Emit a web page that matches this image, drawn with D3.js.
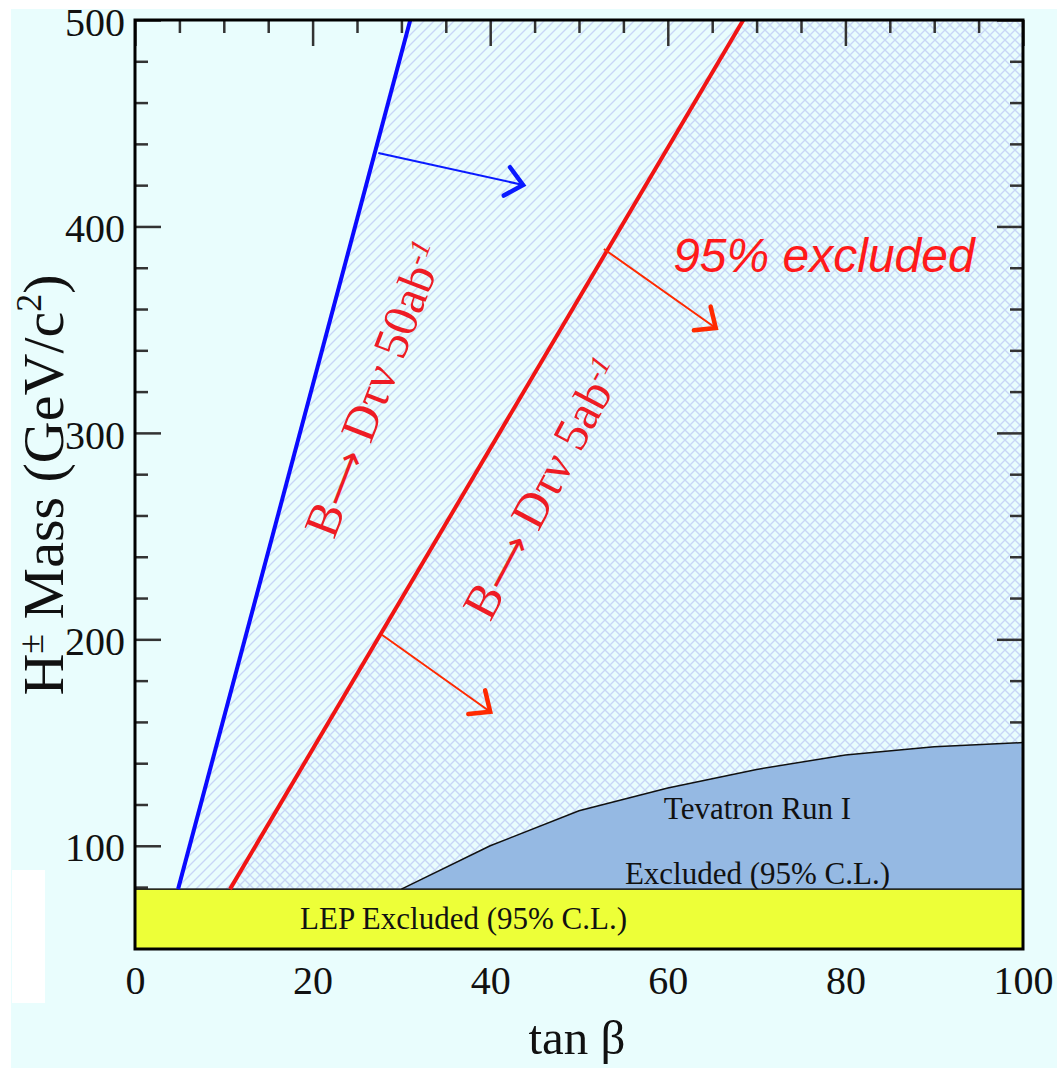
<!DOCTYPE html>
<html>
<head>
<meta charset="utf-8">
<script src="https://cdn.jsdelivr.net/npm/d3@7"></script>
<style>
  body { margin: 0; background: #ffffff; }
  text { font-family: "Liberation Serif", "DejaVu Serif", serif; }
</style>
</head>
<body>
<div id="wrapper"></div>
<script>
// axis ticks
const xMajorTicks = [0, 20, 40, 60, 80, 100]
const xMinorTicks = d3.range(5, 100, 5).filter(d => d % 20 !== 0)
const yMajorTicks = [100, 200, 300, 400, 500]
const yMinorTicks = d3.range(60, 500, 20).filter(d => d % 100 !== 0)

// regions (tanB, mass)
const lepLimit = 79
const blueLine = [[4.85, 79], [31.0, 500]]
const redLine = [[10.7, 79], [68.5, 500]]
const tevatronEdge = [[30, 79], [40, 100], [50, 117], [60, 128], [70, 137], [80, 144], [90, 148], [100, 150]]

// arrows [start, end]
const blueArrow = [[27.4, 435.6], [43.7, 420.1]]
const redArrows = [
  [[52.8, 389.1], [65.4, 350.8]],
  [[27.8, 202.2], [40.0, 164.9]]
]

// labels
const label50 = { pos: [22.4, 248], angle: -69, pre: 'B', post: 'D\u03c4\u03bd 50ab', sup: '-1' }
const label5 = { pos: [40.0, 208], angle: -62, pre: 'B', post: 'D\u03c4\u03bd 5ab', sup: '-1' }
const excludedLabel = { pos: [60.6, 378], text: '95% excluded' }
const tevatronLabel = [[70.1, 113.2, 'Tevatron Run I'], [70.1, 81.4, 'Excluded (95% C.L.)']]
const lepLabel = [37.0, 59.8, 'LEP Excluded (95% C.L.)']

async function drawChart() {
  let dimensions = {
    width: 1057,
    height: 1068,
    margin: { top: 20, right: 34, bottom: 119, left: 135 }
  }
  dimensions.boundedWidth = dimensions.width - dimensions.margin.left - dimensions.margin.right
  dimensions.boundedHeight = dimensions.height - dimensions.margin.top - dimensions.margin.bottom

  const wrapper = d3.select('#wrapper')
    .append('svg')
      .attr('width', dimensions.width)
      .attr('height', dimensions.height)

  // page background
  wrapper.append('rect')
    .attr('x', 11).attr('y', 9)
    .attr('width', dimensions.width - 11).attr('height', dimensions.height - 9)
    .attr('fill', '#e9fdfd')
  wrapper.append('rect')
    .attr('x', 12).attr('y', 870).attr('width', 33).attr('height', 133)
    .attr('fill', '#ffffff')

  const defs = wrapper.append('defs')
  const s = 10
  defs.append('pattern')
      .attr('id', 'hatchUp')
      .attr('patternUnits', 'userSpaceOnUse')
      .attr('width', s).attr('height', s)
    .append('path')
      .attr('d', `M0,${s} L${s},0 M-2,2 L2,-2 M${s - 2},${s + 2} L${s + 2},${s - 2}`)
      .attr('stroke', '#c8d6f6')
      .attr('stroke-width', 1.4)
  defs.append('pattern')
      .attr('id', 'hatchDown')
      .attr('patternUnits', 'userSpaceOnUse')
      .attr('width', s).attr('height', s)
    .append('path')
      .attr('d', `M0,0 L${s},${s} M-2,${s - 2} L2,${s + 2} M${s - 2},-2 L${s + 2},2`)
      .attr('stroke', '#c8d6f6')
      .attr('stroke-width', 1.4)

  const bounds = wrapper.append('g')
    .attr('transform', `translate(${dimensions.margin.left}, ${dimensions.margin.top})`)

  const xScale = d3.scaleLinear()
    .domain([0, 100])
    .range([0, dimensions.boundedWidth])

  const yScale = d3.scaleLinear()
    .domain([50, 500])
    .range([dimensions.boundedHeight, 0])

  const pt = d => [xScale(d[0]), yScale(d[1])]
  const area = d3.line().x(d => xScale(d[0])).y(d => yScale(d[1]))

  // hatched exclusion regions
  bounds.append('path')
    .attr('d', area([...blueLine, [100, 500], [100, lepLimit]]) + 'Z')
    .attr('fill', 'url(#hatchUp)')
  bounds.append('path')
    .attr('d', area([...redLine, [100, 500], [100, lepLimit]]) + 'Z')
    .attr('fill', 'url(#hatchDown)')

  // ticks
  const tickColor = '#333333'
  const addAxis = (axis, transform) => {
    const g = bounds.append('g').attr('transform', transform).call(axis)
    g.select('.domain').remove()
    g.selectAll('.tick line').attr('stroke', tickColor).attr('stroke-width', 2.5)
    g.selectAll('text')
      .attr('fill', '#111111')
      .style('font-family', '"Liberation Serif", serif')
      .style('font-size', '40px')
    return g
  }
  addAxis(d3.axisLeft(yScale).tickValues(yMinorTicks).tickSize(-13).tickFormat(''), '')
  addAxis(d3.axisRight(yScale).tickValues(yMinorTicks).tickSize(-13).tickFormat(''), `translate(${dimensions.boundedWidth},0)`)
  addAxis(d3.axisRight(yScale).tickValues(yMajorTicks).tickSize(-26).tickFormat(''), `translate(${dimensions.boundedWidth},0)`)
  addAxis(d3.axisTop(xScale).tickValues(xMinorTicks).tickSize(-13).tickFormat(''), '')
  addAxis(d3.axisTop(xScale).tickValues(xMajorTicks).tickSize(-26).tickFormat(''), '')
  const yAxis = addAxis(d3.axisLeft(yScale).tickValues(yMajorTicks).tickSize(-26).tickPadding(10), '')
  yAxis.selectAll('text').attr('dy', '0.38em')
  addAxis(d3.axisBottom(xScale).tickValues(xMajorTicks).tickSize(0).tickPadding(17), `translate(0,${dimensions.boundedHeight})`)

  // Tevatron region
  bounds.append('path')
    .attr('d', area([...tevatronEdge, [100, lepLimit]]) + 'Z')
    .attr('fill', '#95b9e3')
  bounds.append('path')
    .attr('d', area(tevatronEdge))
    .attr('fill', 'none')
    .attr('stroke', '#111111')
    .attr('stroke-width', 1.5)
  bounds.selectAll('.tev-label')
    .data(tevatronLabel)
    .enter().append('text')
      .attr('x', d => xScale(d[0]))
      .attr('y', d => yScale(d[1]))
      .attr('text-anchor', 'middle')
      .style('font-size', '31px')
      .attr('fill', '#111111')
      .text(d => d[2])

  // LEP region
  bounds.append('rect')
    .attr('x', xScale(0))
    .attr('y', yScale(lepLimit))
    .attr('width', xScale(100) - xScale(0))
    .attr('height', yScale(50) - yScale(lepLimit))
    .attr('fill', '#edff38')
    .attr('stroke', '#111111')
    .attr('stroke-width', 1.5)
  bounds.append('text')
    .attr('x', xScale(lepLabel[0])).attr('y', yScale(lepLabel[1]))
    .attr('text-anchor', 'middle')
    .style('font-size', '31px')
    .attr('fill', '#111111')
    .text(lepLabel[2])

  // limit lines
  bounds.append('path')
    .attr('d', area(blueLine))
    .attr('stroke', '#0a0aff')
    .attr('stroke-width', 4)
    .attr('fill', 'none')
  bounds.append('path')
    .attr('d', area(redLine))
    .attr('stroke', '#f01414')
    .attr('stroke-width', 4)
    .attr('fill', 'none')

  // arrows
  const drawArrow = (a, color) => {
    const [x0, y0] = pt(a[0])
    const [x1, y1] = pt(a[1])
    const ang = Math.atan2(y1 - y0, x1 - x0)
    const len = 22
    const spread = 0.72
    bounds.append('line')
      .attr('x1', x0).attr('y1', y0).attr('x2', x1).attr('y2', y1)
      .attr('stroke', color).attr('stroke-width', 2)
    const p1 = [x1 - len * Math.cos(ang - spread), y1 - len * Math.sin(ang - spread)]
    const p2 = [x1 - len * Math.cos(ang + spread), y1 - len * Math.sin(ang + spread)]
    bounds.append('path')
      .attr('d', `M${p1[0]},${p1[1]} L${x1},${y1} L${p2[0]},${p2[1]}`)
      .attr('stroke', color).attr('stroke-width', 4.5)
      .attr('stroke-linecap', 'round').attr('stroke-linejoin', 'miter')
      .attr('fill', 'none')
  }
  drawArrow(blueArrow, '#0a1aff')
  redArrows.forEach(a => drawArrow(a, '#ff2a00'))

  // rotated labels
  const drawLabel = l => {
    const [lx, ly] = pt(l.pos)
    const t = bounds.append('text')
      .attr('transform', `translate(${lx},${ly}) rotate(${l.angle})`)
      .attr('fill', '#ee1c24')
      .style('font-size', '49px')
    t.append('tspan').text(l.pre)
    t.append('tspan')
      .style('font-family', '"DejaVu Sans", sans-serif')
      .style('font-size', '40px')
      .text('\u27f6')
    t.append('tspan').text(' ' + l.post)
    t.append('tspan').attr('dy', -15).style('font-size', '29px').style('font-style', 'italic').text(l.sup)
  }
  drawLabel(label50)
  drawLabel(label5)

  bounds.append('text')
    .attr('x', xScale(excludedLabel.pos[0])).attr('y', yScale(excludedLabel.pos[1]))
    .attr('fill', '#ff1a1a')
    .style('font-family', '"Liberation Sans", Arial, sans-serif')
    .style('font-style', 'italic')
    .style('font-size', '48px')
    .text(excludedLabel.text)

  // frame
  bounds.append('rect')
    .attr('width', dimensions.boundedWidth)
    .attr('height', dimensions.boundedHeight)
    .attr('fill', 'none')
    .attr('stroke', '#000000')
    .attr('stroke-width', 3)

  // axis titles
  wrapper.append('text')
    .attr('x', 577).attr('y', 1054)
    .attr('text-anchor', 'middle')
    .attr('fill', '#111111')
    .style('font-size', '49px')
    .text('tan \u03b2')

  const yTitle = wrapper.append('text')
    .attr('transform', 'translate(63, 485) rotate(-90)')
    .attr('text-anchor', 'middle')
    .attr('fill', '#111111')
    .style('font-size', '58px')
  yTitle.append('tspan').text('H')
  yTitle.append('tspan').attr('dy', -20).style('font-size', '36px').text('\u00b1')
  yTitle.append('tspan').attr('dy', 20).text(' Mass (GeV/c')
  yTitle.append('tspan').attr('dy', -22).style('font-size', '36px').text('2')
  yTitle.append('tspan').attr('dy', 22).text(')')
}

drawChart()
</script>
</body>
</html>
